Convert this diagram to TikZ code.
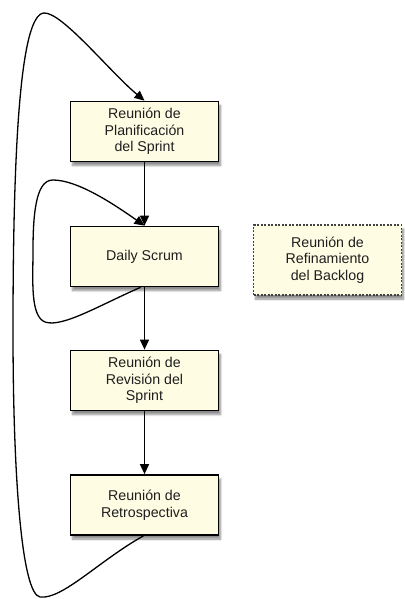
\documentclass[tikz,border=0pt]{standalone}
\usepackage{fontspec}
\setmainfont{Liberation Sans}
\usetikzlibrary{arrows.meta,shadows.blur}
\definecolor{boxfill}{HTML}{FFFCE4}
\definecolor{txt}{HTML}{1E1E1E}
\tikzset{
  stagebox/.style={draw=black, line width=1.7pt, fill=boxfill, minimum width=148pt, minimum height=60pt,
    align=center, text=txt, font=\fontsize{14.2}{16.5}\selectfont, inner sep=2pt,
    blur shadow={shadow xshift=2pt, shadow yshift=-4pt, shadow blur steps=6, shadow opacity=45}},
  optbox/.style={stagebox, draw=black!75, line width=1.3pt, dash pattern=on 2pt off 1.5pt, minimum height=70pt},
  flow/.style={line width=1.4pt, -{Triangle[length=10pt,width=9pt]}},
  loop/.style={line width=1.3pt, -{Triangle[length=10pt,width=9pt]}}
}
\begin{document}
\begin{tikzpicture}[x=1pt,y=-1pt]
\useasboundingbox (0,0) rectangle (404,599);
\node[stagebox] (plan) at (144.5,131.5) {Reunión de\\Planificación\\del Sprint};
\node[stagebox] (daily) at (144.5,256.5) {Daily Scrum};
\node[stagebox] (rev) at (144.5,380.5) {Reunión de\\Revisión del\\Sprint};
\node[stagebox] (retro) at (144.5,505) {Reunión de\\Retrospectiva};
\node[optbox] (refin) at (327.5,260) {Reunión de\\Refinamiento\\del Backlog};
\draw[flow] (plan) -- (daily);
\draw[flow] (daily) -- (rev);
\draw[flow] (rev) -- (retro);
% big loop
\draw[loop] ([xshift=-1pt]retro.south) .. controls (100,560) and (62,600) .. (40,597)
  .. controls (22,594) and (13,480) .. (13,330)
  .. controls (13,150) and (20,14) .. (44,13)
  .. controls (62,12) and (110,72) .. (plan.north);
% small loop
\draw[loop] ([xshift=-4pt]daily.south) .. controls (100,305) and (62,328) .. (45,322)
  .. controls (30,316) and (33,280) .. (33,250)
  .. controls (33,205) and (38,180) .. (53,180)
  .. controls (78,180) and (115,205) .. (daily.north);
\end{tikzpicture}
\end{document}
